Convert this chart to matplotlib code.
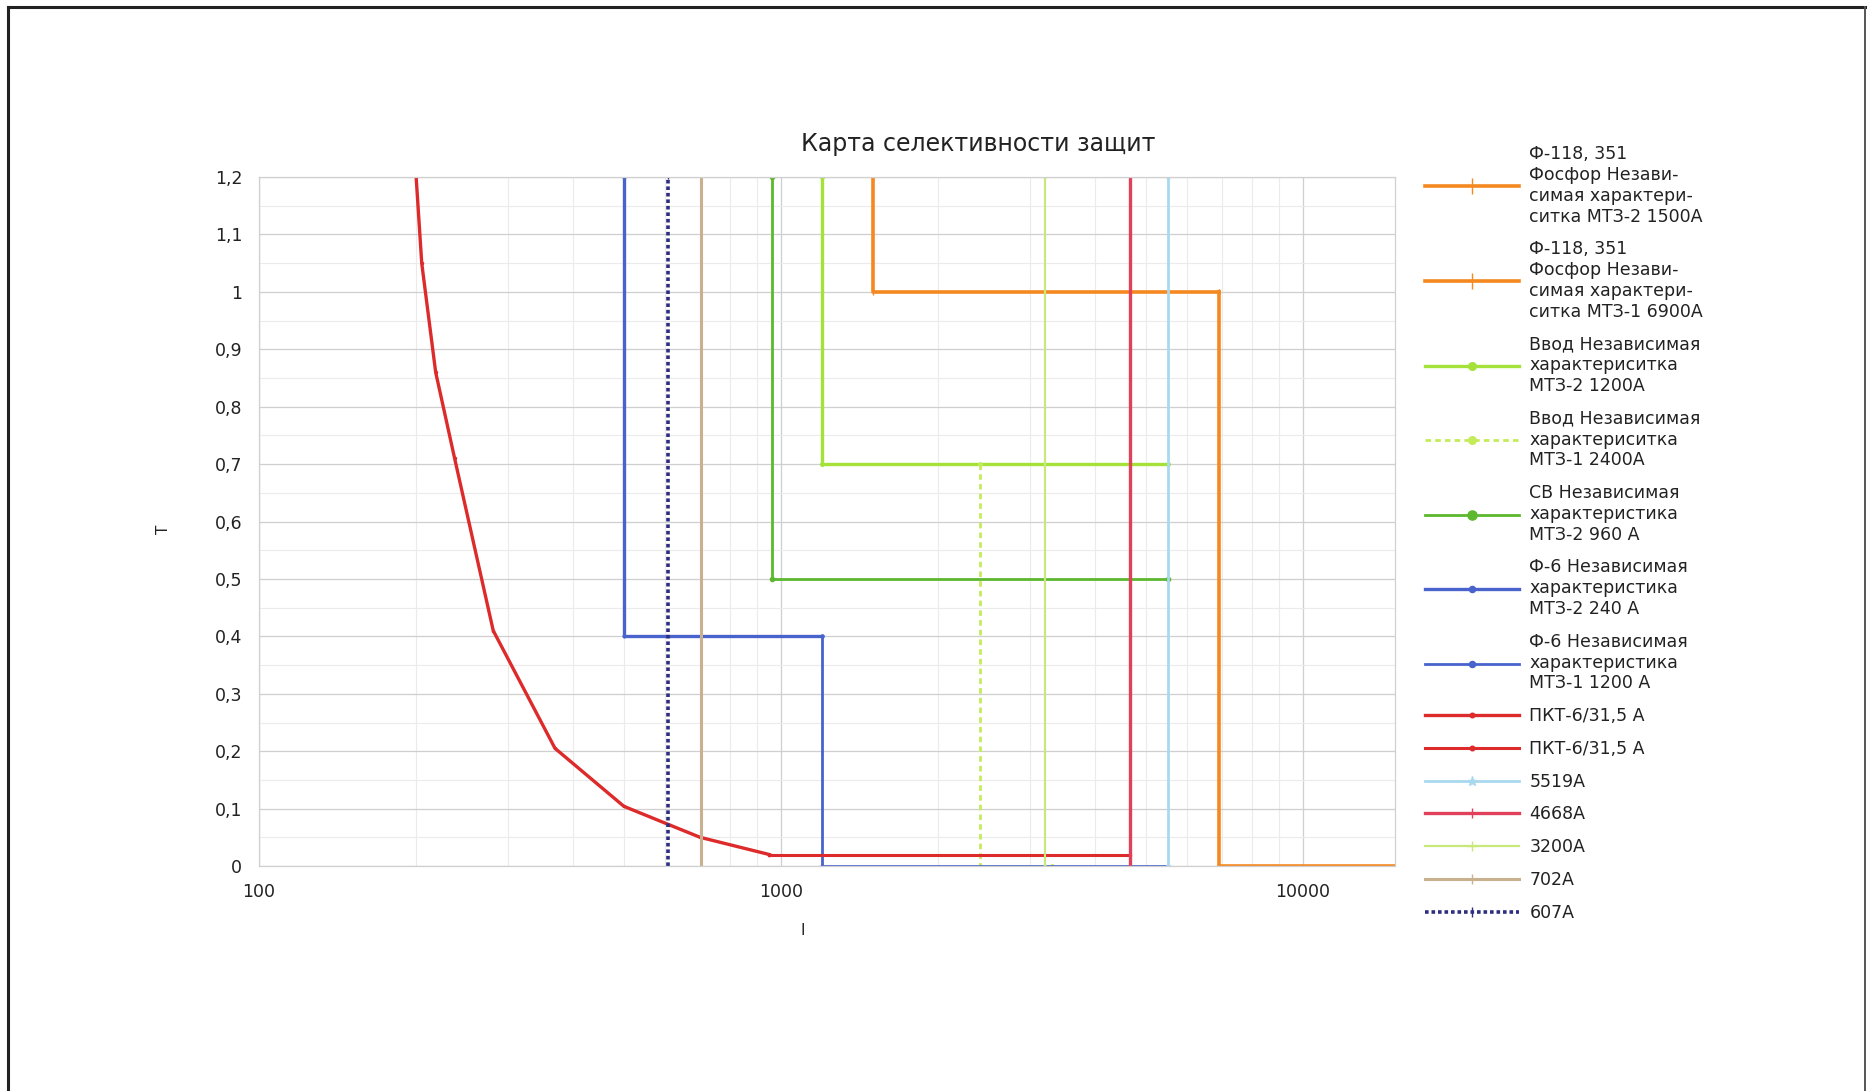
import numpy as np
import matplotlib
matplotlib.use("Agg")
import matplotlib.pyplot as plt
from matplotlib.ticker import MultipleLocator, LogLocator, FixedLocator, FuncFormatter, NullFormatter
from matplotlib.lines import Line2D

plt.rcParams['font.family'] = ['DejaVu Sans']

### Data (current, A / time, s) ###

# Ф-118, 351 Фосфор
f118_mtz2_x = [1500, 1500, 6900]
f118_mtz2_y = [1.2, 1.0, 1.0]
f118_mtz1_x = [6900, 6900, 15000]
f118_mtz1_y = [1.0, 0.0, 0.0]

# Ввод
vvod_mtz2_x = [1200, 1200, 5519]
vvod_mtz2_y = [1.2, 0.7, 0.7]
vvod_mtz1_x = [2400, 2400, 3300]
vvod_mtz1_y = [0.7, 0.0, 0.0]

# СВ
sv_mtz2_x = [960, 960, 5519]
sv_mtz2_y = [1.2, 0.5, 0.5]

# Ф-6
f6_mtz2_x = [500, 500, 1200]
f6_mtz2_y = [1.2, 0.4, 0.4]
f6_mtz1_x = [1200, 1200, 5519]
f6_mtz1_y = [0.4, 0.0, 0.0]

# ПКТ-6/31,5 fuse curve
pkt_x = [200, 205, 218, 237, 281, 369, 500, 610, 700, 950]
pkt_y = [1.2, 1.05, 0.86, 0.71, 0.41, 0.205, 0.104, 0.072, 0.05, 0.02]
pkt2_x = [950, 4668]
pkt2_y = [0.02, 0.02]

# short-circuit currents (vertical lines)
isc_vals = [5519, 4668, 3200, 702, 607]
isc_y = [0.0, 1.2]

labels = [
    "Ф-118, 351\nФосфор Незави-\nсимая характери-\nситка МТЗ-2 1500А",
    "Ф-118, 351\nФосфор Незави-\nсимая характери-\nситка МТЗ-1 6900А",
    "Ввод Независимая\nхарактериситка\nМТЗ-2 1200А",
    "Ввод Независимая\nхарактериситка\nМТЗ-1 2400А",
    "СВ Независимая\nхарактеристика\nМТЗ-2 960 А",
    "Ф-6 Независимая\nхарактеристика\nМТЗ-2 240 А",
    "Ф-6 Независимая\nхарактеристика\nМТЗ-1 1200 А",
    "ПКТ-6/31,5 А",
    "ПКТ-6/31,5 А",
    "5519А",
    "4668А",
    "3200А",
    "702А",
    "607А",
]

c_orange = '#f5891f'
c_vvod = '#a4e23a'
c_vvod2 = '#c4ec5a'
c_sv = '#5cb82e'
c_blue = '#4863cc'
c_red = '#dd2a2a'
c_lblue = '#a9d9ef'
c_red2 = '#e0405a'
c_lgreen = '#c9e87a'
c_tan = '#c9b08e'
c_navy = '#2e2e80'

fig = plt.figure(figsize=(18.74, 10.91), dpi=100)
ax = fig.add_axes([0.1382, 0.2062, 0.6062, 0.6315])

handles = []
h, = ax.plot(f118_mtz2_x, f118_mtz2_y, color=c_orange, lw=2.6, marker='|', ms=5)
handles.append(h)
h, = ax.plot(f118_mtz1_x, f118_mtz1_y, color=c_orange, lw=2.6, marker='|', ms=5)
handles.append(h)
h, = ax.plot(vvod_mtz2_x, vvod_mtz2_y, color=c_vvod, lw=2.4, marker='.', ms=5)
handles.append(h)
h, = ax.plot(vvod_mtz1_x, vvod_mtz1_y, color=c_vvod2, lw=2.0, ls=(0, (2, 1.5)), marker='.', ms=5)
handles.append(h)
h, = ax.plot(sv_mtz2_x, sv_mtz2_y, color=c_sv, lw=2.0, marker='o', ms=3)
handles.append(h)
h, = ax.plot(f6_mtz2_x, f6_mtz2_y, color=c_blue, lw=2.4, marker='o', ms=2)
handles.append(h)
h, = ax.plot(f6_mtz1_x, f6_mtz1_y, color=c_blue, lw=2.0, marker='o', ms=2)
handles.append(h)
h, = ax.plot(pkt_x, pkt_y, color=c_red, lw=2.4, marker='o', ms=1.5)
handles.append(h)
h, = ax.plot(pkt2_x, pkt2_y, color=c_red, lw=2.2, marker='o', ms=1.5)
handles.append(h)

isc_styles = [
    dict(color=c_lblue, lw=2.0, ls='-', marker='*'),
    dict(color=c_red2, lw=2.4, ls='-', marker='|'),
    dict(color=c_lgreen, lw=1.6, ls='-', marker='+'),
    dict(color=c_tan, lw=2.2, ls='-', marker='|'),
    dict(color=c_navy, lw=2.6, ls=(0, (1, 0.8)), marker='|'),
]
for v, st in zip(isc_vals, isc_styles):
    h, = ax.plot([v, v], isc_y, ms=3, **st)
    handles.append(h)

ax.set_xscale('log')
ax.set_xlim(100, 15000)
ax.set_ylim(0, 1.2)

ax.xaxis.set_major_locator(FixedLocator([100, 1000, 10000]))
ax.xaxis.set_major_formatter(FuncFormatter(lambda v, p: "%d" % v))
ax.xaxis.set_minor_locator(LogLocator(base=10, subs=np.arange(2, 10)))
ax.xaxis.set_minor_formatter(NullFormatter())
ax.yaxis.set_major_locator(MultipleLocator(0.1))
ax.yaxis.set_minor_locator(MultipleLocator(0.05))
ax.yaxis.set_major_formatter(FuncFormatter(lambda v, p: ("%g" % round(v, 2)).replace('.', ',')))

ax.grid(True, which='major', color='#cfcfcf', lw=0.9)
ax.grid(True, which='minor', color='#ebebeb', lw=0.8)
ax.set_axisbelow(True)
ax.tick_params(which='both', length=0, labelsize=12.5, colors='#222222')
ax.tick_params(axis='y', pad=12)
ax.tick_params(axis='x', pad=12)
for s in ax.spines.values():
    s.set_color('#d0d0d0')
    s.set_linewidth(0.9)

fig.text(0.522, 0.868, "Карта селективности защит", ha='center', va='center', fontsize=17, color='#222222')
fig.text(0.0875, 0.515, "T", ha='center', va='center', rotation=90, fontsize=11, color='#222222')
fig.text(0.4285, 0.147, "I", ha='center', va='center', fontsize=11, color='#222222')

leg = fig.legend(handles, labels, loc='upper left', bbox_to_anchor=(0.7605, 0.867),
                 frameon=False, fontsize=12.5, handlelength=5.4, handletextpad=0.6,
                 labelspacing=0.85, borderpad=0, borderaxespad=0, markerscale=2.2)
for t in leg.get_texts():
    t.set_color('#222222')
    t.set_linespacing(1.2)

# outer frame of the picture
fig.add_artist(Line2D([0.0045, 0.0045], [0.0, 0.9935], color='#222222', lw=2.2, transform=fig.transFigure))
fig.add_artist(Line2D([0.0045, 0.995], [0.9935, 0.9935], color='#222222', lw=2.2, transform=fig.transFigure))
fig.add_artist(Line2D([0.995, 0.995], [0.0, 0.9935], color='#555555', lw=1.4, transform=fig.transFigure))

fig.savefig('out.png', dpi=100)
